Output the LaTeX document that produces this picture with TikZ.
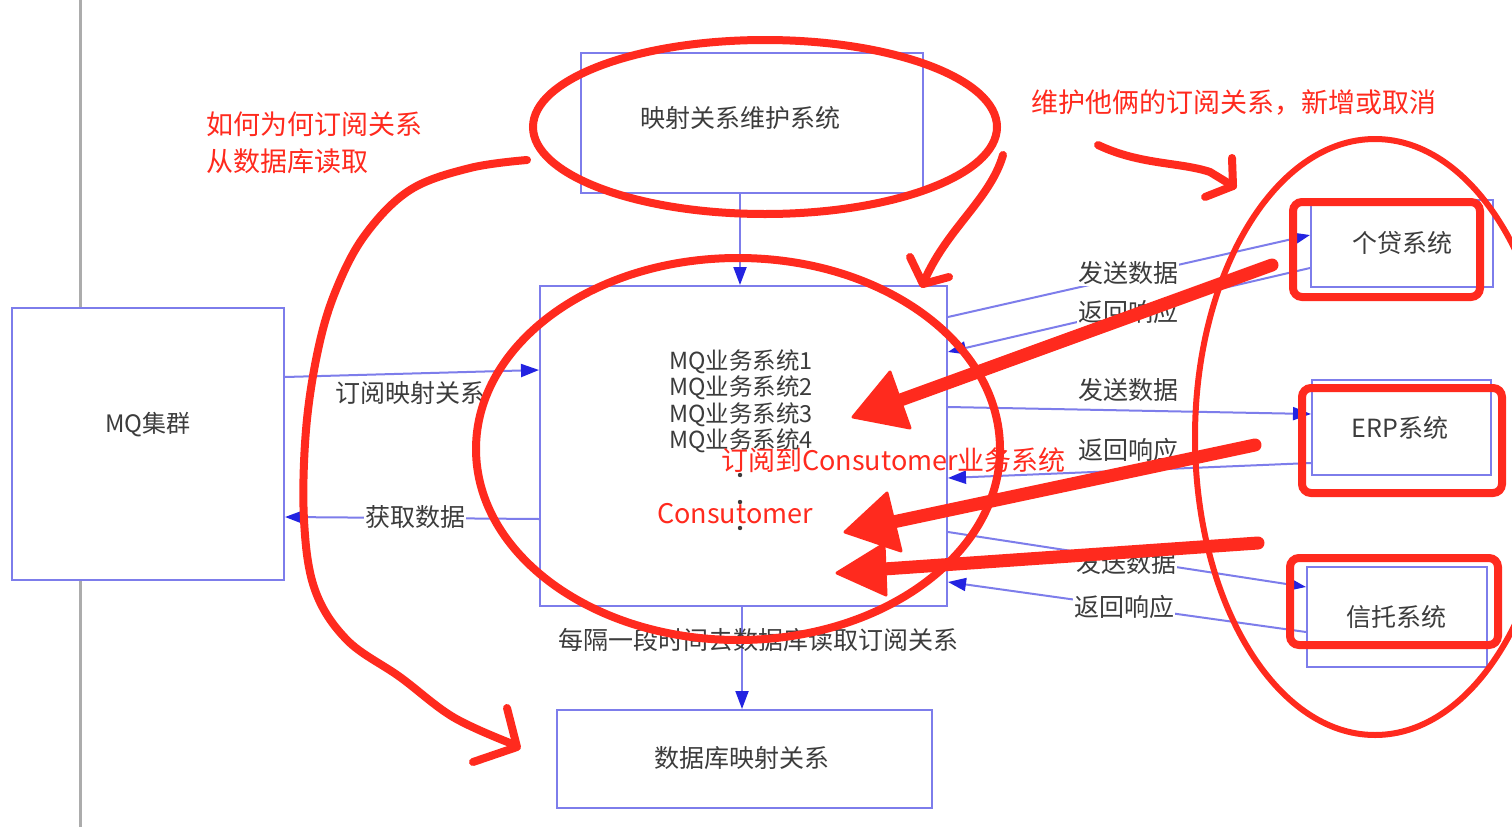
\documentclass[tikz,border=0pt]{standalone}
\usepackage{fontspec}
\setmainfont{Noto Sans CJK SC}
\usetikzlibrary{arrows.meta}
\definecolor{bl}{RGB}{125,125,235}
\definecolor{bh}{RGB}{35,35,225}
\definecolor{rd}{RGB}{255,42,30}
\definecolor{tx}{RGB}{60,60,60}
\tikzset{
  box/.style={draw=bl, line width=2pt, fill=white, inner sep=0pt},
  conn/.style={draw=bl, line width=2pt, -{Triangle[length=18pt,width=13pt,color=bh]}},
  lbl/.style={font=\fontsize{25}{28}\selectfont, text=tx, inner sep=1pt},
  wlbl/.style={lbl, fill=white},
  rtext/.style={text=rd, font=\fontsize{27}{37}\selectfont, inner sep=0pt},
  scrib/.style={draw=rd, line width=8pt, line cap=round, line join=round},
  fat/.style={draw=rd, line width=13pt, line cap=round},
  head/.style={fill=rd, draw=rd, line width=3pt, line join=round}
}
\begin{document}
\begin{tikzpicture}[x=1pt,y=-1pt]
\useasboundingbox (0,0) rectangle (1512,827);
\fill[white] (0,0) rectangle (1512,827);
% gray vertical line
\coordinate (g1) at (80,0);
\coordinate (g2) at (80,827);
\draw[gray!65, line width=3pt] (g1) -- (g2);
% boxes
\node[box, minimum width=272pt, minimum height=272pt] (mq) at (148,444) {};
\node[lbl, font=\fontsize{24}{27}\selectfont] (mqt) at (148,425) {MQ集群};
\node[box, minimum width=342pt, minimum height=140pt] (map) at (752,123) {};
\node[lbl] (mapt) at (740,118) {映射关系维护系统};
\node[box, minimum width=407pt, minimum height=320pt] (cen) at (743.5,446) {};
\node[box, minimum width=375pt, minimum height=98pt] (db) at (744.5,759) {};
\node[lbl] (dbt) at (742,758) {数据库映射关系};
\node[box, minimum width=182pt, minimum height=87pt] (gd) at (1402,243.5) {};
\node[lbl] (gdt) at (1402,243) {个贷系统};
\node[box, minimum width=179pt, minimum height=95pt] (erp) at (1401.5,427.5) {};
\node[lbl] (erpt) at (1400,428) {ERP系统};
\node[box, minimum width=180pt, minimum height=100pt] (xt) at (1397,617) {};
\node[lbl] (xtt) at (1396,617) {信托系统};
% center contents
\node[lbl, font=\fontsize{23.5}{26.5}\selectfont, anchor=north west, align=left] (mqs) at (668,348)
  {MQ业务系统1\\MQ业务系统2\\MQ业务系统3\\MQ业务系统4};
\fill[tx] (740,475) circle[radius=2.2pt] coordinate (d1);
\fill[tx] (740,502) circle[radius=2.2pt] coordinate (d2);
\fill[tx] (740,528) circle[radius=2.2pt] coordinate (d3);
% connectors
\draw[conn] (map.south -| 740,0) -- (cen.north -| 740,0);
\draw[conn] (mq.east |- 0,377) -- (cen.west |- 0,370);
\node[lbl] (l1) at (410,393) {订阅映射关系};
\draw[conn] (cen.west |- 0,519) -- (mq.east |- 0,517);
\node[wlbl] (l2) at (415,517) {获取数据};
\draw[conn] (cen.south -| 742,0) -- (db.north -| 742,0);
\node[lbl] (l3) at (758,640) {每隔一段时间去数据库读取订阅关系};
\draw[conn] (cen.east |- 0,317) -- (gd.west |- 0,235);
\node[wlbl] (l4) at (1128,273) {发送数据};
\draw[conn] (gd.west |- 0,268) -- (cen.east |- 0,352);
\node[wlbl] (l5) at (1128,312) {返回响应};
\draw[conn] (cen.east |- 0,407) -- (erp.west |- 0,414);
\node[wlbl] (l6) at (1128,390) {发送数据};
\draw[conn] (erp.west |- 0,463) -- (cen.east |- 0,478);
\node[wlbl] (l7) at (1128,450) {返回响应};
\draw[conn] (cen.east |- 0,532) -- (xt.west |- 0,587);
\node[wlbl] (l8) at (1126,563) {发送数据};
\draw[conn] (xt.west |- 0,632) -- (cen.east |- 0,582);
\node[wlbl] (l9) at (1124,607) {返回响应};
% ---------------- red annotations ----------------
\draw[rd, line width=8pt] (765,127) ellipse [x radius=232pt, y radius=87pt];
\draw[rd, line width=8pt] (738,449) ellipse [x radius=262pt, y radius=191pt];
\draw[rd, line width=6pt] (1375,437) ellipse [x radius=180pt, y radius=298pt];
% red rectangles around right boxes
\draw[rd, line width=8pt, rounded corners=9pt] (1293,202) rectangle (1480,297);
\draw[rd, line width=8pt, rounded corners=9pt] (1302,388) rectangle (1502,493);
\draw[rd, line width=8pt, rounded corners=9pt] (1290,558) rectangle (1498,645);
% scribbled arrow top middle
\coordinate (s1a) at (1003,155);
\coordinate (s1b) at (923,284);
\draw[scrib] (s1a) .. controls (990,200) and (945,230) .. (s1b);
\draw[scrib] (910,257) -- (s1b) -- (949,277);
% scribbled arrow top right
\coordinate (s2a) at (1098,145);
\coordinate (s2b) at (1233,186);
\draw[scrib] (s2a) .. controls (1140,165) and (1180,162) .. (1210,172) -- (s2b);
\draw[scrib] (1232,158) -- (s2b) -- (1205,197);
% big left curve
\coordinate (s3b) at (517,747);
\draw[scrib] plot[smooth, tension=0.6] coordinates {(527,160) (470,168) (410,190) (365,235) (336,290) (318,350) (306,430) (304,520) (315,590) (347,640) (400,677) (453,717) (510,743)};
\draw[scrib] (507,708) -- (s3b) -- (473,762);
% fat arrows
\coordinate (f1t) at (1272,265);
\coordinate (f1h) at (853,417);
\draw[fat] (f1t) -- (895,402);
\filldraw[head] (f1h) -- (890,372) -- (910,428) -- cycle;
\coordinate (f2t) at (1255,445);
\coordinate (f2h) at (845,532);
\draw[fat] (f2t) -- (893,522);
\filldraw[head] (f2h) -- (887,493) -- (901,551) -- cycle;
\coordinate (f3t) at (1258,543);
\coordinate (f3h) at (837,573);
\draw[fat] (f3t) -- (884,569);
\filldraw[head] (f3h) -- (884,544) -- (886,595) -- cycle;
% red texts
\node[rtext, anchor=west, align=left] (r1) at (206,143) {如何为何订阅关系\\从数据库读取};
\node[rtext, anchor=west] (r2) at (1031,103) {维护他俩的订阅关系，新增或取消};
\node[rtext, anchor=west] (r3) at (721,460) {订阅到Consutomer业务系统};
\node[rtext] (r4) at (735,514) {Consutomer};
\end{tikzpicture}
\end{document}
